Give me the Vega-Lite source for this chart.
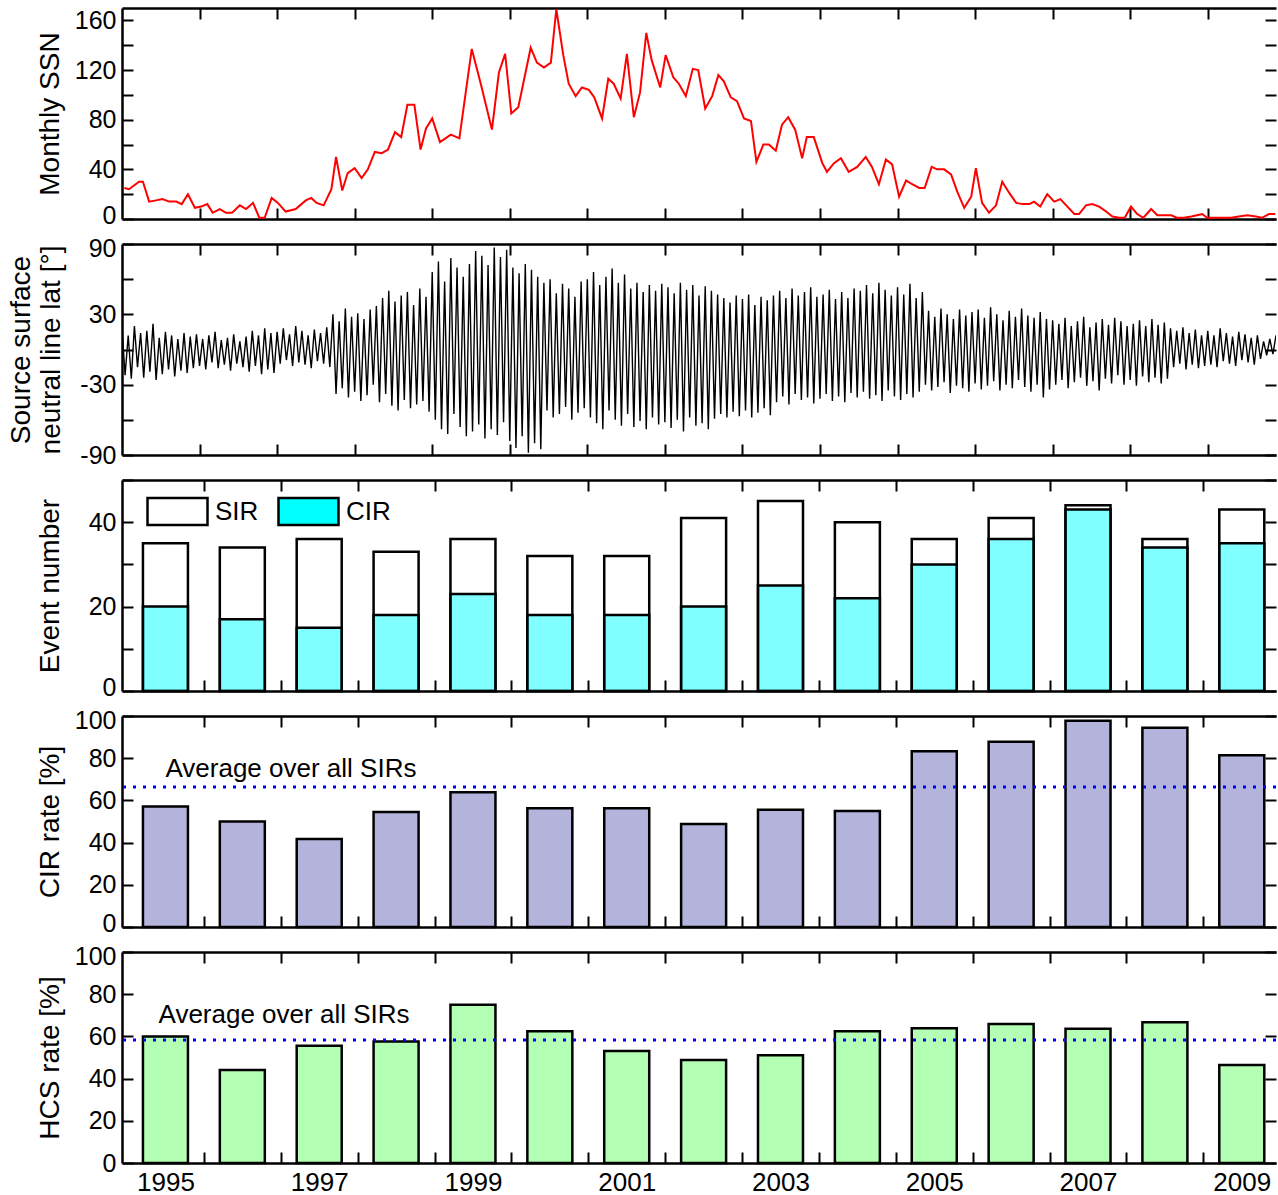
{
"$schema":"https://vega.github.io/schema/vega-lite/v6.json",
"padding":{"left":7,"top":6,"right":0,"bottom":0},
"bounds":"flush",
"spacing":25,
"config":{
 "font":"Liberation Sans",
 "view":{"stroke":null},
 "axis":{"domainColor":"black","domainWidth":2.5,"tickColor":"black","tickWidth":2,"tickSize":-11,"labelPadding":17,"labelFont":"Liberation Sans","labelFontSize":26,"labelColor":"black","titleFont":"Liberation Sans","titleFontSize":28,"titleFontWeight":"normal","titleColor":"black","grid":false,"labelFlush":false,"labelOverlap":false},
 "axisLeft":{"labelFontSize":25},
 "legend":{"labelFont":"Liberation Sans","labelFontSize":26,"labelColor":"black"}
},
"datasets":{
 "ssn":[
{"t":1994.53,"ssn":25},{"t":1994.59,"ssn":24},{"t":1994.72,"ssn":30},{"t":1994.77,"ssn":30},{"t":1994.85,"ssn":14},{"t":1994.94,"ssn":15},{"t":1995.02,"ssn":16},{"t":1995.11,"ssn":14},{"t":1995.2,"ssn":14},{"t":1995.27,"ssn":12},{"t":1995.35,"ssn":20},{"t":1995.44,"ssn":9},{"t":1995.52,"ssn":10},{"t":1995.6,"ssn":12},{"t":1995.67,"ssn":5},{"t":1995.76,"ssn":8},{"t":1995.84,"ssn":5},{"t":1995.92,"ssn":5},{"t":1996.02,"ssn":11},{"t":1996.1,"ssn":8},{"t":1996.19,"ssn":13},{"t":1996.27,"ssn":1},{"t":1996.34,"ssn":1},{"t":1996.43,"ssn":17},{"t":1996.51,"ssn":13},{"t":1996.61,"ssn":6},{"t":1996.74,"ssn":8},{"t":1996.87,"ssn":15},{"t":1996.94,"ssn":17},{"t":1997.01,"ssn":13},{"t":1997.1,"ssn":11},{"t":1997.2,"ssn":24},{"t":1997.26,"ssn":50},{"t":1997.34,"ssn":23},{"t":1997.41,"ssn":37},{"t":1997.5,"ssn":41},{"t":1997.59,"ssn":33},{"t":1997.67,"ssn":40},{"t":1997.76,"ssn":54},{"t":1997.85,"ssn":53},{"t":1997.93,"ssn":56},{"t":1998.02,"ssn":70},{"t":1998.1,"ssn":66},{"t":1998.18,"ssn":92},{"t":1998.27,"ssn":92},{"t":1998.35,"ssn":56},{"t":1998.42,"ssn":73},{"t":1998.5,"ssn":81},{"t":1998.6,"ssn":62},{"t":1998.74,"ssn":68},{"t":1998.85,"ssn":65},{"t":1999.01,"ssn":137},{"t":1999.13,"ssn":108},{"t":1999.27,"ssn":72},{"t":1999.36,"ssn":118},{"t":1999.44,"ssn":133},{"t":1999.52,"ssn":85},{"t":1999.61,"ssn":90},{"t":1999.77,"ssn":138},{"t":1999.85,"ssn":126},{"t":1999.94,"ssn":122},{"t":2000.03,"ssn":126},{"t":2000.1,"ssn":169},{"t":2000.19,"ssn":132},{"t":2000.26,"ssn":109},{"t":2000.35,"ssn":99},{"t":2000.43,"ssn":106},{"t":2000.52,"ssn":104},{"t":2000.59,"ssn":98},{"t":2000.69,"ssn":81},{"t":2000.77,"ssn":113},{"t":2000.84,"ssn":109},{"t":2000.93,"ssn":97},{"t":2001.01,"ssn":133},{"t":2001.1,"ssn":82},{"t":2001.18,"ssn":102},{"t":2001.26,"ssn":150},{"t":2001.33,"ssn":128},{"t":2001.44,"ssn":106},{"t":2001.51,"ssn":132},{"t":2001.61,"ssn":114},{"t":2001.68,"ssn":109},{"t":2001.77,"ssn":99},{"t":2001.86,"ssn":121},{"t":2001.93,"ssn":120},{"t":2002.02,"ssn":89},{"t":2002.11,"ssn":99},{"t":2002.19,"ssn":116},{"t":2002.26,"ssn":111},{"t":2002.35,"ssn":98},{"t":2002.43,"ssn":95},{"t":2002.52,"ssn":81},{"t":2002.61,"ssn":79},{"t":2002.68,"ssn":46},{"t":2002.77,"ssn":60},{"t":2002.84,"ssn":60},{"t":2002.93,"ssn":55},{"t":2003.01,"ssn":76},{"t":2003.09,"ssn":82},{"t":2003.18,"ssn":72},{"t":2003.27,"ssn":49},{"t":2003.33,"ssn":66},{"t":2003.42,"ssn":66},{"t":2003.53,"ssn":45},{"t":2003.59,"ssn":38},{"t":2003.68,"ssn":45},{"t":2003.77,"ssn":49},{"t":2003.87,"ssn":38},{"t":2003.98,"ssn":42},{"t":2004.09,"ssn":50},{"t":2004.17,"ssn":42},{"t":2004.26,"ssn":28},{"t":2004.35,"ssn":48},{"t":2004.43,"ssn":44},{"t":2004.52,"ssn":18},{"t":2004.61,"ssn":31},{"t":2004.69,"ssn":28},{"t":2004.78,"ssn":25},{"t":2004.85,"ssn":25},{"t":2004.94,"ssn":42},{"t":2005.01,"ssn":40},{"t":2005.1,"ssn":40},{"t":2005.19,"ssn":36},{"t":2005.27,"ssn":22},{"t":2005.36,"ssn":9},{"t":2005.45,"ssn":18},{"t":2005.51,"ssn":41},{"t":2005.59,"ssn":13},{"t":2005.68,"ssn":5},{"t":2005.77,"ssn":11},{"t":2005.85,"ssn":30},{"t":2005.94,"ssn":21},{"t":2006.03,"ssn":13},{"t":2006.11,"ssn":12},{"t":2006.2,"ssn":12},{"t":2006.26,"ssn":14},{"t":2006.34,"ssn":10},{"t":2006.43,"ssn":20},{"t":2006.52,"ssn":14},{"t":2006.6,"ssn":16},{"t":2006.69,"ssn":10},{"t":2006.78,"ssn":4},{"t":2006.84,"ssn":4},{"t":2006.93,"ssn":11},{"t":2007.01,"ssn":12},{"t":2007.1,"ssn":10},{"t":2007.19,"ssn":6},{"t":2007.27,"ssn":2},{"t":2007.36,"ssn":1},{"t":2007.43,"ssn":1},{"t":2007.51,"ssn":10},{"t":2007.59,"ssn":4},{"t":2007.67,"ssn":1},{"t":2007.77,"ssn":8},{"t":2007.85,"ssn":3},{"t":2007.94,"ssn":3},{"t":2008.03,"ssn":3},{"t":2008.1,"ssn":1},{"t":2008.19,"ssn":1},{"t":2008.29,"ssn":2},{"t":2008.36,"ssn":3},{"t":2008.43,"ssn":4},{"t":2008.49,"ssn":1},{"t":2008.58,"ssn":1},{"t":2008.68,"ssn":1},{"t":2008.8,"ssn":1},{"t":2008.9,"ssn":2},{"t":2009.01,"ssn":3},{"t":2009.12,"ssn":2},{"t":2009.2,"ssn":1},{"t":2009.29,"ssn":4},{"t":2009.37,"ssn":4}
 ],
 "hcs":[
{"t":1994.5,"v":18},{"t":1994.54,"v":-22},{"t":1994.58,"v":12},{"t":1994.62,"v":-25},{"t":1994.66,"v":20},{"t":1994.7,"v":-15},{"t":1994.74,"v":14},{"t":1994.78,"v":-24},{"t":1994.82,"v":16},{"t":1994.86,"v":-19},{"t":1994.9,"v":22},{"t":1994.94,"v":-26},{"t":1994.98,"v":10},{"t":1995.02,"v":-21},{"t":1995.06,"v":15},{"t":1995.1,"v":-17},{"t":1995.14,"v":12},{"t":1995.18,"v":-23},{"t":1995.22,"v":9},{"t":1995.26,"v":-18},{"t":1995.3,"v":14},{"t":1995.34,"v":-20},{"t":1995.38,"v":11},{"t":1995.42,"v":-16},{"t":1995.46,"v":13},
{"t":1995.5,"v":-14},{"t":1995.54,"v":9},{"t":1995.58,"v":-17},{"t":1995.62,"v":12},{"t":1995.66,"v":-11},{"t":1995.7,"v":15},{"t":1995.74,"v":-16},{"t":1995.78,"v":8},{"t":1995.82,"v":-13},{"t":1995.86,"v":10},{"t":1995.9,"v":-18},{"t":1995.94,"v":13},{"t":1995.98,"v":-12},{"t":1996.02,"v":7},{"t":1996.06,"v":-15},{"t":1996.1,"v":11},{"t":1996.14,"v":-19},{"t":1996.18,"v":16},{"t":1996.22,"v":-14},{"t":1996.26,"v":12},{"t":1996.3,"v":-21},{"t":1996.34,"v":18},{"t":1996.38,"v":-17},{"t":1996.42,"v":14},{"t":1996.46,"v":-20},
{"t":1996.5,"v":15},{"t":1996.54,"v":-12},{"t":1996.58,"v":18},{"t":1996.62,"v":-9},{"t":1996.66,"v":13},{"t":1996.7,"v":-14},{"t":1996.74,"v":20},{"t":1996.78,"v":-11},{"t":1996.82,"v":16},{"t":1996.86,"v":-13},{"t":1996.9,"v":12},{"t":1996.94,"v":-16},{"t":1996.98,"v":17},{"t":1997.02,"v":-10},{"t":1997.06,"v":14},{"t":1997.1,"v":-12},{"t":1997.14,"v":19},{"t":1997.18,"v":-15},{"t":1997.22,"v":30},{"t":1997.26,"v":-38},{"t":1997.3,"v":24},{"t":1997.34,"v":-33},{"t":1997.38,"v":35},{"t":1997.42,"v":-41},{"t":1997.46,"v":28},
{"t":1997.5,"v":-36},{"t":1997.54,"v":31},{"t":1997.58,"v":-44},{"t":1997.62,"v":26},{"t":1997.66,"v":-39},{"t":1997.7,"v":34},{"t":1997.74,"v":-30},{"t":1997.78,"v":37},{"t":1997.82,"v":-45},{"t":1997.86,"v":44},{"t":1997.9,"v":-38},{"t":1997.94,"v":50},{"t":1997.98,"v":-48},{"t":1998.02,"v":41},{"t":1998.06,"v":-52},{"t":1998.1,"v":46},{"t":1998.14,"v":-43},{"t":1998.18,"v":49},{"t":1998.22,"v":-50},{"t":1998.26,"v":38},{"t":1998.3,"v":-47},{"t":1998.34,"v":52},{"t":1998.38,"v":-44},{"t":1998.42,"v":45},{"t":1998.46,"v":-53},
{"t":1998.5,"v":66},{"t":1998.54,"v":-60},{"t":1998.58,"v":75},{"t":1998.62,"v":-68},{"t":1998.66,"v":58},{"t":1998.7,"v":-72},{"t":1998.74,"v":78},{"t":1998.78,"v":-55},{"t":1998.82,"v":70},{"t":1998.86,"v":-66},{"t":1998.9,"v":62},{"t":1998.94,"v":-74},{"t":1998.98,"v":73},{"t":1999.02,"v":-70},{"t":1999.06,"v":84},{"t":1999.1,"v":-64},{"t":1999.14,"v":80},{"t":1999.18,"v":-76},{"t":1999.22,"v":72},{"t":1999.26,"v":-68},{"t":1999.3,"v":87},{"t":1999.34,"v":-73},{"t":1999.38,"v":79},{"t":1999.42,"v":-62},{"t":1999.46,"v":85},
{"t":1999.5,"v":-78},{"t":1999.54,"v":70},{"t":1999.58,"v":-84},{"t":1999.62,"v":65},{"t":1999.66,"v":-74},{"t":1999.7,"v":73},{"t":1999.74,"v":-88},{"t":1999.78,"v":68},{"t":1999.82,"v":-80},{"t":1999.86,"v":62},{"t":1999.9,"v":-85},{"t":1999.94,"v":57},{"t":1999.98,"v":-52},{"t":2000.02,"v":60},{"t":2000.06,"v":-58},{"t":2000.1,"v":48},{"t":2000.14,"v":-55},{"t":2000.18,"v":56},{"t":2000.22,"v":-49},{"t":2000.26,"v":52},{"t":2000.3,"v":-60},{"t":2000.34,"v":45},{"t":2000.38,"v":-54},{"t":2000.42,"v":58},{"t":2000.46,"v":-50},
{"t":2000.5,"v":60},{"t":2000.54,"v":-58},{"t":2000.58,"v":66},{"t":2000.62,"v":-63},{"t":2000.66,"v":55},{"t":2000.7,"v":-68},{"t":2000.74,"v":62},{"t":2000.78,"v":-52},{"t":2000.82,"v":69},{"t":2000.86,"v":-60},{"t":2000.9,"v":57},{"t":2000.94,"v":-65},{"t":2000.98,"v":64},{"t":2001.02,"v":-55},{"t":2001.06,"v":52},{"t":2001.1,"v":-66},{"t":2001.14,"v":57},{"t":2001.18,"v":-61},{"t":2001.22,"v":49},{"t":2001.26,"v":-68},{"t":2001.3,"v":55},{"t":2001.34,"v":-58},{"t":2001.38,"v":50},{"t":2001.42,"v":-64},{"t":2001.46,"v":56},
{"t":2001.5,"v":-62},{"t":2001.54,"v":53},{"t":2001.58,"v":-67},{"t":2001.62,"v":48},{"t":2001.66,"v":-60},{"t":2001.7,"v":57},{"t":2001.74,"v":-70},{"t":2001.78,"v":51},{"t":2001.82,"v":-58},{"t":2001.86,"v":55},{"t":2001.9,"v":-65},{"t":2001.94,"v":46},{"t":2001.98,"v":-63},{"t":2002.02,"v":54},{"t":2002.06,"v":-68},{"t":2002.1,"v":50},{"t":2002.14,"v":-59},{"t":2002.18,"v":47},{"t":2002.22,"v":-55},{"t":2002.26,"v":44},{"t":2002.3,"v":-58},{"t":2002.34,"v":40},{"t":2002.38,"v":-53},{"t":2002.42,"v":46},{"t":2002.46,"v":-57},
{"t":2002.5,"v":43},{"t":2002.54,"v":-52},{"t":2002.58,"v":47},{"t":2002.62,"v":-58},{"t":2002.66,"v":38},{"t":2002.7,"v":-54},{"t":2002.74,"v":45},{"t":2002.78,"v":-50},{"t":2002.82,"v":42},{"t":2002.86,"v":-56},{"t":2002.9,"v":46},{"t":2002.94,"v":-45},{"t":2002.98,"v":50},{"t":2003.02,"v":-40},{"t":2003.06,"v":44},{"t":2003.1,"v":-47},{"t":2003.14,"v":52},{"t":2003.18,"v":-38},{"t":2003.22,"v":46},{"t":2003.26,"v":-43},{"t":2003.3,"v":49},{"t":2003.34,"v":-41},{"t":2003.38,"v":53},{"t":2003.42,"v":-46},{"t":2003.46,"v":45},
{"t":2003.5,"v":-42},{"t":2003.54,"v":47},{"t":2003.58,"v":-38},{"t":2003.62,"v":51},{"t":2003.66,"v":-44},{"t":2003.7,"v":43},{"t":2003.74,"v":-40},{"t":2003.78,"v":49},{"t":2003.82,"v":-45},{"t":2003.86,"v":44},{"t":2003.9,"v":-37},{"t":2003.94,"v":52},{"t":2003.98,"v":-41},{"t":2004.02,"v":50},{"t":2004.06,"v":-36},{"t":2004.1,"v":55},{"t":2004.14,"v":-42},{"t":2004.18,"v":48},{"t":2004.22,"v":-39},{"t":2004.26,"v":57},{"t":2004.3,"v":-44},{"t":2004.34,"v":51},{"t":2004.38,"v":-35},{"t":2004.42,"v":46},{"t":2004.46,"v":-40},
{"t":2004.5,"v":53},{"t":2004.54,"v":-43},{"t":2004.58,"v":47},{"t":2004.62,"v":-38},{"t":2004.66,"v":56},{"t":2004.7,"v":-41},{"t":2004.74,"v":44},{"t":2004.78,"v":-36},{"t":2004.82,"v":49},{"t":2004.86,"v":-30},{"t":2004.9,"v":33},{"t":2004.94,"v":-35},{"t":2004.98,"v":28},{"t":2005.02,"v":-32},{"t":2005.06,"v":35},{"t":2005.1,"v":-28},{"t":2005.14,"v":30},{"t":2005.18,"v":-37},{"t":2005.22,"v":26},{"t":2005.26,"v":-31},{"t":2005.3,"v":34},{"t":2005.34,"v":-33},{"t":2005.38,"v":29},{"t":2005.42,"v":-36},{"t":2005.46,"v":32},
{"t":2005.5,"v":-29},{"t":2005.54,"v":34},{"t":2005.58,"v":-34},{"t":2005.62,"v":27},{"t":2005.66,"v":-31},{"t":2005.7,"v":36},{"t":2005.74,"v":-27},{"t":2005.78,"v":30},{"t":2005.82,"v":-35},{"t":2005.86,"v":25},{"t":2005.9,"v":-30},{"t":2005.94,"v":33},{"t":2005.98,"v":-33},{"t":2006.02,"v":28},{"t":2006.06,"v":-26},{"t":2006.1,"v":35},{"t":2006.14,"v":-32},{"t":2006.18,"v":29},{"t":2006.22,"v":-36},{"t":2006.26,"v":27},{"t":2006.3,"v":-30},{"t":2006.34,"v":32},{"t":2006.38,"v":-41},{"t":2006.42,"v":26},{"t":2006.46,"v":-34},
{"t":2006.5,"v":25},{"t":2006.54,"v":-30},{"t":2006.58,"v":22},{"t":2006.62,"v":-26},{"t":2006.66,"v":27},{"t":2006.7,"v":-33},{"t":2006.74,"v":20},{"t":2006.78,"v":-28},{"t":2006.82,"v":24},{"t":2006.86,"v":-24},{"t":2006.9,"v":28},{"t":2006.94,"v":-31},{"t":2006.98,"v":19},{"t":2007.02,"v":-27},{"t":2007.06,"v":23},{"t":2007.1,"v":-35},{"t":2007.14,"v":26},{"t":2007.18,"v":-25},{"t":2007.22,"v":21},{"t":2007.26,"v":-29},{"t":2007.3,"v":27},{"t":2007.34,"v":-22},{"t":2007.38,"v":24},{"t":2007.42,"v":-30},{"t":2007.46,"v":20},
{"t":2007.5,"v":-26},{"t":2007.54,"v":22},{"t":2007.58,"v":-31},{"t":2007.62,"v":25},{"t":2007.66,"v":-23},{"t":2007.7,"v":20},{"t":2007.74,"v":-28},{"t":2007.78,"v":26},{"t":2007.82,"v":-24},{"t":2007.86,"v":21},{"t":2007.9,"v":-29},{"t":2007.94,"v":23},{"t":2007.98,"v":-25},{"t":2008.02,"v":18},{"t":2008.06,"v":-15},{"t":2008.1,"v":16},{"t":2008.14,"v":-12},{"t":2008.18,"v":19},{"t":2008.22,"v":-17},{"t":2008.26,"v":14},{"t":2008.3,"v":-13},{"t":2008.34,"v":17},{"t":2008.38,"v":-16},{"t":2008.42,"v":12},{"t":2008.46,"v":-14},
{"t":2008.5,"v":16},{"t":2008.54,"v":-13},{"t":2008.58,"v":12},{"t":2008.62,"v":-15},{"t":2008.66,"v":18},{"t":2008.7,"v":-10},{"t":2008.74,"v":14},{"t":2008.78,"v":-12},{"t":2008.82,"v":11},{"t":2008.86,"v":-14},{"t":2008.9,"v":15},{"t":2008.94,"v":-9},{"t":2008.98,"v":13},{"t":2009.02,"v":-11},{"t":2009.06,"v":10},{"t":2009.1,"v":-13},{"t":2009.14,"v":12},{"t":2009.18,"v":-8},{"t":2009.22,"v":7},{"t":2009.26,"v":-5},{"t":2009.3,"v":9},{"t":2009.34,"v":-4},{"t":2009.38,"v":12}
 ],
 "events":[
{"year":1995,"type":"SIR","n":35},{"year":1996,"type":"SIR","n":34},{"year":1997,"type":"SIR","n":36},{"year":1998,"type":"SIR","n":33},{"year":1999,"type":"SIR","n":36},{"year":2000,"type":"SIR","n":32},{"year":2001,"type":"SIR","n":32},{"year":2002,"type":"SIR","n":41},{"year":2003,"type":"SIR","n":45},{"year":2004,"type":"SIR","n":40},{"year":2005,"type":"SIR","n":36},{"year":2006,"type":"SIR","n":41},{"year":2007,"type":"SIR","n":44},{"year":2008,"type":"SIR","n":36},{"year":2009,"type":"SIR","n":43},
{"year":1995,"type":"CIR","n":20},{"year":1996,"type":"CIR","n":17},{"year":1997,"type":"CIR","n":15},{"year":1998,"type":"CIR","n":18},{"year":1999,"type":"CIR","n":23},{"year":2000,"type":"CIR","n":18},{"year":2001,"type":"CIR","n":18},{"year":2002,"type":"CIR","n":20},{"year":2003,"type":"CIR","n":25},{"year":2004,"type":"CIR","n":22},{"year":2005,"type":"CIR","n":30},{"year":2006,"type":"CIR","n":36},{"year":2007,"type":"CIR","n":43},{"year":2008,"type":"CIR","n":34},{"year":2009,"type":"CIR","n":35}
 ],
 "rates":[
{"year":1995,"cir":57.1,"hcs":60.0},{"year":1996,"cir":50.0,"hcs":44.1},{"year":1997,"cir":41.7,"hcs":55.6},{"year":1998,"cir":54.5,"hcs":57.6},{"year":1999,"cir":63.9,"hcs":75.0},{"year":2000,"cir":56.3,"hcs":62.5},{"year":2001,"cir":56.3,"hcs":53.1},{"year":2002,"cir":48.8,"hcs":48.8},{"year":2003,"cir":55.6,"hcs":51.1},{"year":2004,"cir":55.0,"hcs":62.5},{"year":2005,"cir":83.3,"hcs":63.9},{"year":2006,"cir":87.8,"hcs":65.9},{"year":2007,"cir":97.7,"hcs":63.6},{"year":2008,"cir":94.4,"hcs":66.7},{"year":2009,"cir":81.4,"hcs":46.5}
 ]
},
"vconcat":[
 {"width":1154,"height":211,"data":{"name":"ssn"},
  "layer":[
   {"mark":{"type":"line","color":"#ff0000","strokeWidth":2,"clip":true},
    "encoding":{
     "x":{"field":"t","type":"quantitative","scale":{"domain":[1994.5,2009.38],"nice":false,"zero":false},"axis":{"orient":"bottom","values":[1995.5,1996.5,1997.5,1998.5,1999.5,2000.5,2001.5,2002.5,2003.5,2004.5,2005.5,2006.5,2007.5,2008.5],"labels":false,"title":null}},
     "y":{"field":"ssn","type":"quantitative","scale":{"domain":[0,170],"nice":false},"axis":{"orient":"left","values":[0,20,40,60,80,100,120,140,160],"labelExpr":"datum.value % 40 === 0 ? '' + datum.value : ''","labelOffset":{"condition":{"test":"datum.value === 0","value":-4},"value":0},"title":"Monthly SSN","titleX":-72,"titleY":105.5,"titleAngle":270,"titleAlign":"center","titleBaseline":"middle"}}}},
   {"mark":{"type":"point","opacity":0},
    "encoding":{
     "x":{"field":"t","type":"quantitative","scale":{"domain":[1994.5,2009.38],"nice":false,"zero":false},"axis":{"orient":"top","values":[1995.5,1996.5,1997.5,1998.5,1999.5,2000.5,2001.5,2002.5,2003.5,2004.5,2005.5,2006.5,2007.5,2008.5],"labels":false,"title":null}},
     "y":{"field":"ssn","type":"quantitative","scale":{"domain":[0,170],"nice":false},"axis":{"orient":"right","values":[0,20,40,60,80,100,120,140,160],"labels":false,"domain":false,"title":null}}}}
  ],
  "resolve":{"axis":{"x":"independent","y":"independent"}}},
 {"width":1154,"height":211,"data":{"name":"hcs"},
  "layer":[
   {"mark":{"type":"line","color":"#000000","strokeWidth":1.4,"clip":true},
    "encoding":{
     "x":{"field":"t","type":"quantitative","scale":{"domain":[1994.5,2009.38],"nice":false,"zero":false},"axis":{"orient":"bottom","values":[1995.5,1996.5,1997.5,1998.5,1999.5,2000.5,2001.5,2002.5,2003.5,2004.5,2005.5,2006.5,2007.5,2008.5],"labels":false,"title":null}},
     "y":{"field":"v","type":"quantitative","scale":{"domain":[-90,90],"nice":false,"zero":false},"axis":{"orient":"left","values":[-90,-60,-30,0,30,60,90],"labelExpr":"(datum.value + 90) % 60 === 0 ? '' + datum.value : ''","labelOffset":{"condition":{"test":"datum.value === 90","value":4},"value":0},"title":["Source surface","neutral line lat [°]"],"titleLineHeight":30,"titleX":-101,"titleY":105.5,"titleAngle":270,"titleAlign":"center","titleBaseline":"middle"}}}},
   {"mark":{"type":"point","opacity":0},
    "encoding":{
     "x":{"field":"t","type":"quantitative","scale":{"domain":[1994.5,2009.38],"nice":false,"zero":false},"axis":{"orient":"top","values":[1995.5,1996.5,1997.5,1998.5,1999.5,2000.5,2001.5,2002.5,2003.5,2004.5,2005.5,2006.5,2007.5,2008.5],"labels":false,"title":null}},
     "y":{"field":"v","type":"quantitative","scale":{"domain":[-90,90],"nice":false,"zero":false},"axis":{"orient":"right","values":[-90,-60,-30,0,30,60,90],"labels":false,"domain":false,"title":null}}}}
  ],
  "resolve":{"axis":{"x":"independent","y":"independent"}}},
 {"width":1154,"height":211,"data":{"name":"events"},
  "layer":[
   {"mark":{"type":"bar","orient":"vertical","width":45,"stroke":"black","strokeWidth":2.5,"fillOpacity":0.5},
    "encoding":{
     "x":{"field":"year","type":"quantitative","scale":{"domain":[1994.5,2009.38],"nice":false,"zero":false},"axis":{"orient":"bottom","values":[1995.5,1996.5,1997.5,1998.5,1999.5,2000.5,2001.5,2002.5,2003.5,2004.5,2005.5,2006.5,2007.5,2008.5],"labels":false,"title":null}},
     "y":{"field":"n","type":"quantitative","stack":null,"scale":{"domain":[0,50],"nice":false},"axis":{"orient":"left","values":[0,10,20,30,40,50],"labelExpr":"datum.value % 20 === 0 ? '' + datum.value : ''","labelOffset":{"condition":{"test":"datum.value === 0","value":-4},"value":0},"title":"Event number","titleX":-72,"titleY":105.5,"titleAngle":270,"titleAlign":"center","titleBaseline":"middle"}},
     "color":{"field":"type","type":"nominal","scale":{"domain":["SIR","CIR"],"range":["#ffffff","#00ffff"]},
       "legend":{"orient":"none","legendX":24,"legendY":472,"direction":"horizontal","title":null,"symbolType":"M-1,-0.45H1V0.45H-1Z","symbolSize":3600,"symbolStrokeColor":"black","symbolStrokeWidth":2.5,"symbolOpacity":1,"labelOffset":6,"columnPadding":14,"labelFontSize":26,"padding":0,
         "encode":{"symbols":{"update":{"fillOpacity":{"value":1},"opacity":{"value":1},"stroke":{"value":"black"}}}}}}}},
   {"mark":{"type":"point","opacity":0},
    "encoding":{
     "x":{"field":"year","type":"quantitative","scale":{"domain":[1994.5,2009.38],"nice":false,"zero":false},"axis":{"orient":"top","values":[1995.5,1996.5,1997.5,1998.5,1999.5,2000.5,2001.5,2002.5,2003.5,2004.5,2005.5,2006.5,2007.5,2008.5],"labels":false,"title":null}},
     "y":{"field":"n","type":"quantitative","scale":{"domain":[0,50],"nice":false},"axis":{"orient":"right","values":[0,10,20,30,40,50],"labels":false,"domain":false,"title":null}}}}
  ],
  "resolve":{"axis":{"x":"independent","y":"independent"}}},
 {"width":1154,"height":211,"data":{"name":"rates"},
  "layer":[
   {"mark":{"type":"bar","orient":"vertical","width":45,"stroke":"black","strokeWidth":2.5,"fill":"#b3b3dc"},
    "encoding":{
     "x":{"field":"year","type":"quantitative","scale":{"domain":[1994.5,2009.38],"nice":false,"zero":false},"axis":{"orient":"bottom","values":[1995.5,1996.5,1997.5,1998.5,1999.5,2000.5,2001.5,2002.5,2003.5,2004.5,2005.5,2006.5,2007.5,2008.5],"labels":false,"title":null}},
     "y":{"field":"cir","type":"quantitative","scale":{"domain":[0,100],"nice":false},"axis":{"orient":"left","values":[0,20,40,60,80,100],"labelExpr":"'' + datum.value","labelOffset":{"condition":[{"test":"datum.value === 0","value":-4},{"test":"datum.value === 100","value":4}],"value":0},"title":"CIR rate [%]","titleX":-72,"titleY":105.5,"titleAngle":270,"titleAlign":"center","titleBaseline":"middle"}}}},
   {"data":{"values":[{"avg":66.3}]},
    "mark":{"type":"rule","color":"#0000ff","strokeWidth":3,"strokeDash":[3,7]},
    "encoding":{"y":{"field":"avg","type":"quantitative","scale":{"domain":[0,100],"nice":false},"axis":null}}},
   {"data":{"values":[{"label":"Average over all SIRs"}]},
    "mark":{"type":"text","align":"left","baseline":"middle","fontSize":26,"font":"Liberation Sans","color":"black"},
    "encoding":{"x":{"datum":1995.0,"type":"quantitative","scale":{"domain":[1994.5,2009.38],"nice":false,"zero":false},"axis":null},"y":{"datum":74.8,"type":"quantitative","scale":{"domain":[0,100],"nice":false},"axis":null},"text":{"field":"label"}}},
   {"mark":{"type":"point","opacity":0},
    "encoding":{
     "x":{"field":"year","type":"quantitative","scale":{"domain":[1994.5,2009.38],"nice":false,"zero":false},"axis":{"orient":"top","values":[1995.5,1996.5,1997.5,1998.5,1999.5,2000.5,2001.5,2002.5,2003.5,2004.5,2005.5,2006.5,2007.5,2008.5],"labels":false,"title":null}},
     "y":{"field":"cir","type":"quantitative","scale":{"domain":[0,100],"nice":false},"axis":{"orient":"right","values":[0,20,40,60,80,100],"labels":false,"domain":false,"title":null}}}}
  ],
  "resolve":{"axis":{"x":"independent","y":"independent"}}},
 {"width":1154,"height":211,"data":{"name":"rates"},
  "layer":[
   {"mark":{"type":"bar","orient":"vertical","width":45,"stroke":"black","strokeWidth":2.5,"fill":"#b3ffb3"},
    "encoding":{
     "x":{"field":"year","type":"quantitative","scale":{"domain":[1994.5,2009.38],"nice":false,"zero":false},"axis":{"orient":"bottom","values":[1995.5,1996.5,1997.5,1998.5,1999.5,2000.5,2001.5,2002.5,2003.5,2004.5,2005.5,2006.5,2007.5,2008.5],"labels":false,"title":null}},
     "y":{"field":"hcs","type":"quantitative","scale":{"domain":[0,100],"nice":false},"axis":{"orient":"left","values":[0,20,40,60,80,100],"labelExpr":"'' + datum.value","labelOffset":{"condition":{"test":"datum.value === 100","value":4},"value":0},"title":"HCS rate [%]","titleX":-72,"titleY":105.5,"titleAngle":270,"titleAlign":"center","titleBaseline":"middle"}}}},
   {"data":{"values":[{"avg":58.3}]},
    "mark":{"type":"rule","color":"#0000ff","strokeWidth":3,"strokeDash":[3,7]},
    "encoding":{"y":{"field":"avg","type":"quantitative","scale":{"domain":[0,100],"nice":false},"axis":null}}},
   {"data":{"values":[{"label":"Average over all SIRs"}]},
    "mark":{"type":"text","align":"left","baseline":"middle","fontSize":26,"font":"Liberation Sans","color":"black"},
    "encoding":{"x":{"datum":1994.91,"type":"quantitative","scale":{"domain":[1994.5,2009.38],"nice":false,"zero":false},"axis":null},"y":{"datum":70.3,"type":"quantitative","scale":{"domain":[0,100],"nice":false},"axis":null},"text":{"field":"label"}}},
   {"mark":{"type":"point","opacity":0},
    "encoding":{
     "x":{"field":"year","type":"quantitative","scale":{"domain":[1994.5,2009.38],"nice":false,"zero":false},"axis":{"orient":"top","values":[1995.5,1996.5,1997.5,1998.5,1999.5,2000.5,2001.5,2002.5,2003.5,2004.5,2005.5,2006.5,2007.5,2008.5],"labels":false,"title":null}},
     "y":{"field":"hcs","type":"quantitative","scale":{"domain":[0,100],"nice":false},"axis":{"orient":"right","values":[0,20,40,60,80,100],"labels":false,"domain":false,"title":null}}}},
   {"mark":{"type":"point","opacity":0},
    "encoding":{
     "x":{"field":"year","type":"quantitative","scale":{"domain":[1994.5,2009.38],"nice":false,"zero":false},"axis":{"orient":"bottom","values":[1995,1997,1999,2001,2003,2005,2007,2009],"ticks":false,"domain":false,"labelPadding":6,"labelExpr":"'' + datum.value","title":null}}}}
  ],
  "resolve":{"axis":{"x":"independent","y":"independent"}}}
]
}
